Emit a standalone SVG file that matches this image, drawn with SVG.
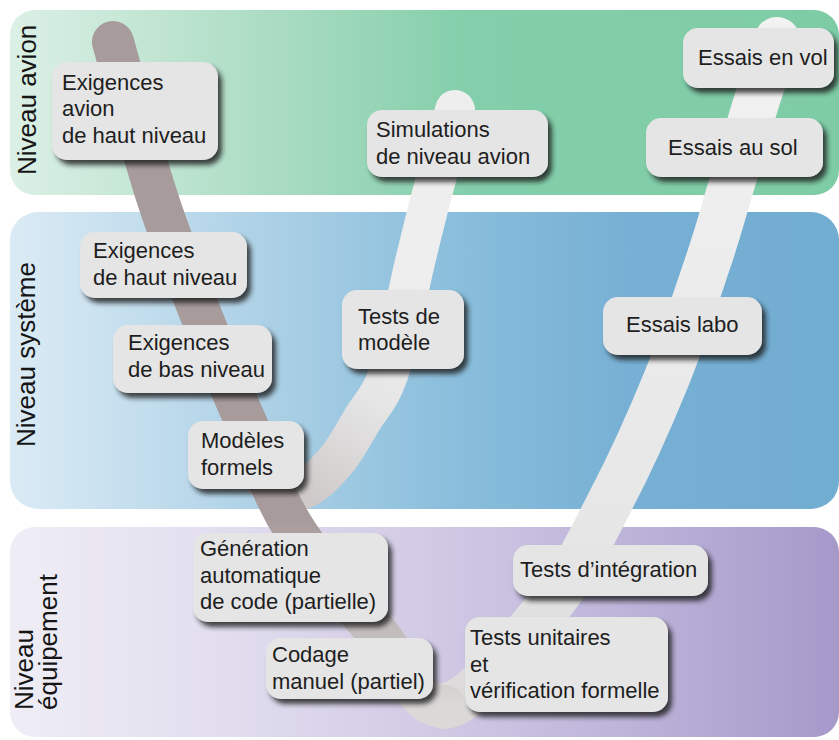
<svg xmlns="http://www.w3.org/2000/svg" width="839" height="740" viewBox="0 0 839 740">
  <defs>
    <linearGradient id="gAvion" x1="0" y1="0" x2="1" y2="0">
      <stop offset="0" stop-color="#dcf0e6"/>
      <stop offset="0.35" stop-color="#a5dabf"/>
      <stop offset="0.55" stop-color="#84cfab"/>
      <stop offset="1" stop-color="#7ecca6"/>
    </linearGradient>
    <linearGradient id="gSysteme" x1="0" y1="0" x2="1" y2="0">
      <stop offset="0" stop-color="#dbebf5"/>
      <stop offset="0.35" stop-color="#a6cde4"/>
      <stop offset="0.55" stop-color="#88bddb"/>
      <stop offset="0.75" stop-color="#77b0d4"/>
      <stop offset="1" stop-color="#71acd1"/>
    </linearGradient>
    <linearGradient id="gEquip" x1="0" y1="0" x2="1" y2="0">
      <stop offset="0" stop-color="#efedf5"/>
      <stop offset="0.25" stop-color="#e2deef"/>
      <stop offset="0.5" stop-color="#d1cbe5"/>
      <stop offset="0.75" stop-color="#bcb3d9"/>
      <stop offset="1" stop-color="#a699ca"/>
    </linearGradient>
    <!-- descending arm: brown fading to light grey at the bottom of the V -->
    <linearGradient id="gDesc" gradientUnits="userSpaceOnUse" x1="0" y1="0" x2="0" y2="720">
      <stop offset="0.72" stop-color="#a89b9b"/>
      <stop offset="0.88" stop-color="#c4bdbd"/>
      <stop offset="0.98" stop-color="#dbd8d8"/>
    </linearGradient>
    <!-- ascending arm: light grey -->
    <linearGradient id="gAsc" gradientUnits="userSpaceOnUse" x1="0" y1="720" x2="0" y2="20">
      <stop offset="0" stop-color="#dbd8d8"/>
      <stop offset="0.25" stop-color="#e6e6e6"/>
      <stop offset="1" stop-color="#f2f2f2"/>
    </linearGradient>
    <!-- model loop -->
    <linearGradient id="gModel" gradientUnits="userSpaceOnUse" x1="290" y1="495" x2="420" y2="280">
      <stop offset="0" stop-color="#cec8c8"/>
      <stop offset="0.5" stop-color="#e6e6e6"/>
      <stop offset="1" stop-color="#eeeeee"/>
    </linearGradient>
    <filter id="shadow" x="-10%" y="-15%" width="130%" height="150%">
      <feGaussianBlur in="SourceAlpha" stdDeviation="2.5"/>
      <feOffset dx="4" dy="5" result="off"/>
      <feFlood flood-color="#1a1a1a" flood-opacity="0.8"/>
      <feComposite in2="off" operator="in"/>
      <feMerge>
        <feMergeNode/>
        <feMergeNode in="SourceGraphic"/>
      </feMerge>
    </filter>
    <style>
      .band-label { font-family: "Liberation Sans", Arial, sans-serif; font-size: 26px; fill: #151515; }
      .box rect { fill: #e5e5e5; filter: url(#shadow); }
      .box text { font-family: "Liberation Sans", Arial, sans-serif; font-size: 22px; fill: #1e1e1e; }
      .arm { fill: none; stroke-linecap: round; stroke-linejoin: round; }
    </style>
  </defs>

  <!-- level bands -->
  <g id="bands">
    <rect x="10" y="10" width="829" height="185" rx="25" fill="url(#gAvion)"/>
    <rect x="10" y="212" width="829" height="297" rx="28" fill="url(#gSysteme)"/>
    <rect x="10" y="527" width="829" height="210" rx="25" fill="url(#gEquip)"/>
  </g>

  <g id="band-labels">
    <text class="band-label" transform="translate(36,175) rotate(-90)">Niveau avion</text>
    <text class="band-label" transform="translate(35,447) rotate(-90)">Niveau système</text>
    <text class="band-label" transform="translate(33,710) rotate(-90)">
      <tspan x="0" y="0">Niveau</tspan>
      <tspan x="0" y="24">équipement</tspan>
    </text>
  </g>

  <!-- V-cycle connectors -->
  <g id="connectors">
    <path id="model-loop" class="arm" stroke="url(#gModel)" stroke-width="40"
          d="M262,478 C268.3,480 287.8,492.7 300,490 C312.2,487.3 324.7,473.7 335,462 C345.3,450.3 353,435 362,420 C371,405 380.2,398.3 389,372 C397.8,345.7 407.7,292.3 415,262 C422.3,231.7 426.3,215.3 433,190 C439.7,164.7 451.3,123.3 455,110"/>
    <path id="ascending-arm" class="arm" stroke="url(#gAsc)" stroke-width="46"
          d="M445,706 C473.8,702.2 520.3,641.3 548,607 C575.7,572.7 591.3,537.8 611,500 C630.7,462.2 649.8,419.7 666,380 C682.2,340.3 697.3,293.7 708,262 C718.7,230.3 721.8,217 730,190 C738.2,163 749.2,125 757,100 C764.8,75 773.7,50 777,40"/>
    <path id="descending-arm" class="arm" stroke="url(#gDesc)" stroke-width="42"
          d="M113,42 C120.5,68.3 142.3,152 158,200 C173.7,248 192.2,292.5 207,330 C221.8,367.5 232.7,392.2 247,425 C261.3,457.8 271.7,492.8 293,527 C314.3,561.2 349.7,600.2 375,630 C400.3,659.8 416.2,709.8 445,706"/>
  </g>

  <!-- nodes -->
  <g id="exigences-avion" class="box">
    <rect x="52" y="62" width="166" height="98" rx="15"/>
    <text x="62" y="89.5">Exigences</text>
    <text x="62" y="116">avion</text>
    <text x="62" y="142.5">de haut niveau</text>
  </g>
  <g id="simulations" class="box">
    <rect x="367" y="110" width="181" height="67" rx="15"/>
    <text x="376" y="137">Simulations</text>
    <text x="376" y="164">de niveau avion</text>
  </g>
  <g id="essais-vol" class="box">
    <rect x="683" y="28" width="151" height="60" rx="15"/>
    <text x="698" y="65">Essais en vol</text>
  </g>
  <g id="essais-sol" class="box">
    <rect x="646" y="118" width="177" height="59" rx="15"/>
    <text x="668" y="155">Essais au sol</text>
  </g>
  <g id="exigences-haut" class="box">
    <rect x="80" y="232" width="167" height="66" rx="15"/>
    <text x="93" y="258">Exigences</text>
    <text x="93" y="285">de haut niveau</text>
  </g>
  <g id="exigences-bas" class="box">
    <rect x="113" y="325" width="159" height="68" rx="15"/>
    <text x="128" y="350">Exigences</text>
    <text x="128" y="377">de bas niveau</text>
  </g>
  <g id="modeles-formels" class="box">
    <rect x="188" y="421" width="116" height="68" rx="15"/>
    <text x="201" y="448">Modèles</text>
    <text x="201" y="475">formels</text>
  </g>
  <g id="tests-modele" class="box">
    <rect x="342" y="290" width="122" height="79" rx="15"/>
    <text x="358" y="324">Tests de</text>
    <text x="358" y="350">modèle</text>
  </g>
  <g id="essais-labo" class="box">
    <rect x="603" y="297" width="159" height="58" rx="15"/>
    <text x="626" y="332">Essais labo</text>
  </g>
  <g id="generation-code" class="box">
    <rect x="193" y="533" width="195" height="89" rx="15"/>
    <text x="200" y="556">Génération</text>
    <text x="200" y="582.5">automatique</text>
    <text x="200" y="609">de code (partielle)</text>
  </g>
  <g id="codage-manuel" class="box">
    <rect x="266" y="638" width="167" height="61" rx="15"/>
    <text x="272" y="662">Codage</text>
    <text x="272" y="689">manuel (partiel)</text>
  </g>
  <g id="tests-integration" class="box">
    <rect x="513" y="545" width="195" height="51" rx="15"/>
    <text x="520" y="577">Tests d’intégration</text>
  </g>
  <g id="tests-unitaires" class="box">
    <rect x="465" y="617" width="203" height="95" rx="15"/>
    <text x="470" y="645">Tests unitaires</text>
    <text x="470" y="671.5">et</text>
    <text x="470" y="698">vérification formelle</text>
  </g>
</svg>
